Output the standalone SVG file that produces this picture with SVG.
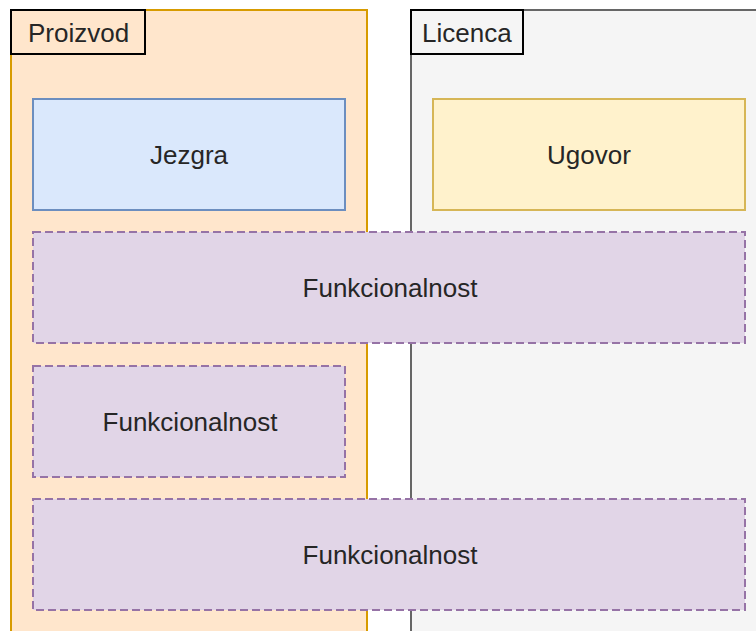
<svg xmlns="http://www.w3.org/2000/svg" width="756" height="631" viewBox="0 0 756 631">
  <style>
    text { font-family: "Liberation Sans", Arial, sans-serif; font-size: 26px; fill: #262626; text-anchor: middle; }
    .lbl { text-anchor: start; }
    .lblbox { fill: none; stroke: #000000; stroke-width: 2; }
    .func { fill: #e1d5e7; stroke: #9673a6; stroke-width: 2; stroke-dasharray: 8 4; }
  </style>
  <rect width="756" height="631" fill="#ffffff"/>
  <g id="proizvod">
    <rect x="11" y="10" width="356" height="640" fill="#ffe6cc" stroke="#d79b00" stroke-width="2"/>
    <rect class="lblbox" x="11" y="10" width="134" height="44"/>
    <text class="lbl" x="28" y="42">Proizvod</text>
  </g>
  <g id="licenca">
    <rect x="411" y="10" width="360" height="640" fill="#f5f5f5" stroke="#666666" stroke-width="2"/>
    <rect class="lblbox" x="411" y="10" width="112" height="44"/>
    <text class="lbl" x="422" y="42">Licenca</text>
  </g>
  <g id="jezgra">
    <rect x="33" y="99" width="312" height="111" fill="#dae8fc" stroke="#6c8ebf" stroke-width="2"/>
    <text x="189" y="164">Jezgra</text>
  </g>
  <g id="ugovor">
    <rect x="433" y="99" width="312" height="111" fill="#fff2cc" stroke="#d6b656" stroke-width="2"/>
    <text x="589" y="164">Ugovor</text>
  </g>
  <g id="funkcionalnost1">
    <rect class="func" x="33" y="232" width="712" height="111"/>
    <text x="390" y="297">Funkcionalnost</text>
  </g>
  <g id="funkcionalnost2">
    <rect class="func" x="33" y="366" width="312" height="111"/>
    <text x="190" y="431">Funkcionalnost</text>
  </g>
  <g id="funkcionalnost3">
    <rect class="func" x="33" y="499" width="712" height="111"/>
    <text x="390" y="564">Funkcionalnost</text>
  </g>
  <g id="connectors"/>
</svg>
